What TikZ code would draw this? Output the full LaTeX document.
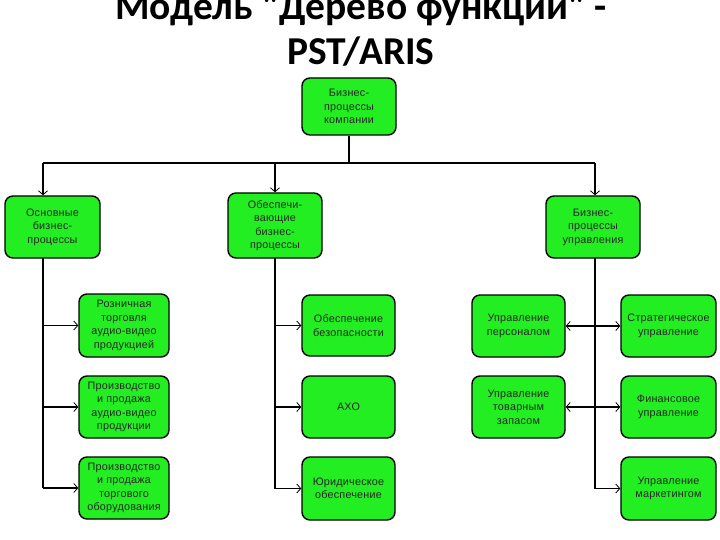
\documentclass[tikz,border=0pt]{standalone}
\usepackage{fontspec}
\setmainfont{Liberation Sans}
\newfontfamily\titlefam{Carlito}
\newfontfamily\boxfam{Liberation Sans}[LetterSpace=2]
\usetikzlibrary{arrows.meta}
\definecolor{boxgreen}{HTML}{22EE22}
\tikzset{
  fbox/.style={draw=black, line width=1.4pt, fill=boxgreen, rounded corners=8pt,
    align=center, inner sep=2pt, font=\boxfam\fontsize{10.8}{13.5}\selectfont, text=black!85},
  conn/.style={draw=black, line width=1.3pt},
  arr/.style={conn, -{Straight Barb[length=4pt,width=9pt,line width=0.8pt]}},
  ttl/.style={font=\titlefam\bfseries\fontsize{39.5}{45}\selectfont, anchor=base}
}
\begin{document}
\begin{tikzpicture}[x=1pt,y=-1pt]
\useasboundingbox (0,0) rectangle (720,540);
\clip (0,0) rectangle (720,540);
\node[ttl] (t1) at (361,20) {Модель "Дерево функций" -};
\node[ttl] (t2) at (361,65) {PST/ARIS};

\node[fbox, minimum width=94pt, minimum height=57pt] (top) at (349,106.5) {Бизнес-\\процессы\\компании};
\node[fbox, minimum width=95pt, minimum height=62pt] (A) at (52.5,227) {Основные\\бизнес-\\процессы};
\node[fbox, minimum width=94pt, minimum height=65pt] (B) at (275,225.5) {Обеспечи-\\вающие\\бизнес-\\процессы};
\node[fbox, minimum width=94pt, minimum height=62pt] (C) at (593,227) {Бизнес-\\процессы\\управления};

\node[fbox, minimum width=90pt, minimum height=63pt] (L1) at (124,325.5) {Розничная\\торговля\\аудио-видео\\продукцией};
\node[fbox, minimum width=90pt, minimum height=62pt] (L2) at (124,407) {Производство\\и продажа\\аудио-видео\\продукции};
\node[fbox, minimum width=90pt, minimum height=62pt] (L3) at (124,488) {Производство\\и продажа\\торгового\\оборудования};

\node[fbox, minimum width=93pt, minimum height=61pt] (M1) at (348.5,325.5) {Обеспечение\\безопасности};
\node[fbox, minimum width=93pt, minimum height=62pt] (M2) at (348.5,407) {АХО};
\node[fbox, minimum width=93pt, minimum height=63pt] (M3) at (348.5,488.5) {Юридическое\\обеспечение};

\node[fbox, minimum width=93pt, minimum height=62pt] (R1) at (518.5,326) {Управление\\персоналом};
\node[fbox, minimum width=93pt, minimum height=62pt] (R2) at (518.5,407) {Управление\\товарным\\запасом};

\node[fbox, minimum width=95pt, minimum height=62pt] (S1) at (668.5,326) {Стратегическое\\управление};
\node[fbox, minimum width=95pt, minimum height=62pt] (S2) at (668.5,407) {Финансовое\\управление};
\node[fbox, minimum width=95pt, minimum height=63pt] (S3) at (668.5,488.5) {Управление\\маркетингом};

% bus
\coordinate (busL) at (43,163);
\coordinate (busM) at (275,163);
\coordinate (busR) at (595,163);
\draw[conn] (top.south) -- (top.south |- busL);
\draw[conn] (busL) -- (busR);
\draw[arr] (busL) -- (busL |- A.north);
\draw[arr] (busM) -- (busM |- B.north);
\draw[arr] (busR) -- (busR |- C.north);

% left trunk
\coordinate (la) at (43,258);
\draw[conn] (la) -- (la |- L3.west);
\draw[arr] (la |- L1.west) -- (L1.west);
\draw[arr] (la |- L2.west) -- (L2.west);
\draw[arr] (la |- L3.west) -- (L3.west);

% middle trunk
\coordinate (ma) at (275,258);
\draw[conn] (ma) -- (ma |- M3.west);
\draw[arr] (ma |- M1.west) -- (M1.west);
\draw[arr] (ma |- M2.west) -- (M2.west);
\draw[arr] (ma |- M3.west) -- (M3.west);

% right trunk
\coordinate (ra) at (595,258);
\draw[conn] (ra) -- (ra |- S3.west);
\draw[arr] (ra |- R1.east) -- (R1.east);
\draw[arr] (ra |- R2.east) -- (R2.east);
\draw[arr] (ra |- S1.west) -- (S1.west);
\draw[arr] (ra |- S2.west) -- (S2.west);
\draw[arr] (ra |- S3.west) -- (S3.west);
\end{tikzpicture}
\end{document}
